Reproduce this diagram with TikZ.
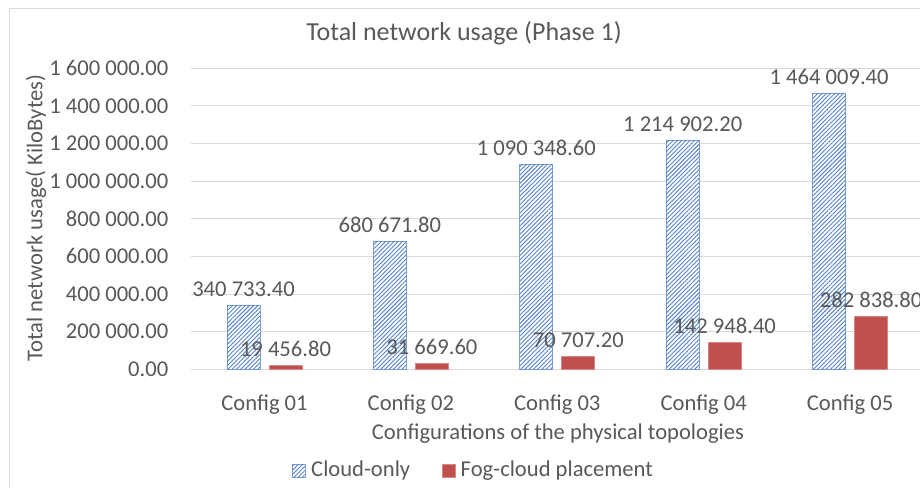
\documentclass[tikz,border=0pt]{standalone}
\usepackage{fontspec}
\setmainfont{Carlito}
\usetikzlibrary{patterns.meta}
\definecolor{txt}{HTML}{595959}
\definecolor{gridgray}{HTML}{D9D9D9}
\definecolor{framegray}{HTML}{D9D9D9}
\definecolor{cloudblue}{HTML}{5282CC}
\definecolor{cloudedge}{HTML}{7FA2DA}
\definecolor{fogred}{HTML}{C0504D}
\definecolor{fogedge}{HTML}{D58886}

\begin{document}
\begin{tikzpicture}[x=1pt,y=-1pt,
  txtbase/.style={text=txt,inner sep=0pt},
  bigfont/.style={font=\fontsize{22.6}{27}\selectfont},
  ticklbl/.style={txtbase,bigfont,anchor=base east},
  vallbl/.style={txtbase,bigfont,anchor=base},
  catlbl/.style={txtbase,bigfont,anchor=base},
  axtitle/.style={txtbase,bigfont},
  legtxt/.style={txtbase,bigfont,anchor=base west},
  charttitle/.style={txtbase,font=\fontsize{26}{31}\selectfont,anchor=base},
  cloudbar/.style={draw=cloudedge,line width=0.8pt,fill=white,
    postaction={pattern color=cloudblue,
      pattern={Lines[angle=45,distance=3pt,line width=0.9pt]}}},
  fogbar/.style={fill=fogred,draw=fogedge,line width=0.8pt},
  gridline/.style={draw=gridgray,line width=1pt}]

\useasboundingbox (0,0) rectangle (920,487);
\fill[white] (0,0) rectangle (920,487);

% chart area frame
\draw[framegray,line width=1pt] (9.3,500) -- (9.3,8.3) -- (930,8.3);

% title
\node[charttitle] (title) at (464,41) {Total network usage (Phase 1)};

% horizontal gridlines and value axis labels
\foreach \k/\t in {0/0.00,1/200 000.00,2/400 000.00,3/600 000.00,4/800 000.00,
                   5/1 000 000.00,6/1 200 000.00,7/1 400 000.00,8/1 600 000.00}{
  \pgfmathsetmacro{\gy}{369.3-\k*37.625}
  \path[gridline] (191,\gy) -- (925,\gy);
  \node[ticklbl] (tick\k) at (168.5,\gy+7.3) {\t};
}

% axis titles
\node[axtitle,rotate=90] (ytitle) at (36,218) {Total network usage( KiloBytes)};
\node[axtitle,anchor=base] (xtitle) at (558,439.5) {Configurations of the physical topologies};

% bars (values in thousands of KiloBytes)
\foreach \i/\cv/\fv in {1/340.7334/19.4568,2/680.6718/31.6696,3/1090.3486/70.7072,
                        4/1214.9022/142.9484,5/1464.0094/282.8388}{
  \pgfmathsetmacro{\c}{191.3+(\i-0.5)*146.4}
  \pgfmathsetmacro{\ct}{369.3-\cv*0.188125}
  \pgfmathsetmacro{\ft}{369.3-\fv*0.188125}
  \path[cloudbar] (\c-37.5,369.3) rectangle (\c-4.5,\ct);
  \path[fogbar] (\c+4.5,369.3) rectangle (\c+37.5,\ft);
  \node[catlbl] (cat\i) at (\c,410) {Config 0\i};
}

% data labels
\foreach \i/\cv/\fv/\cl/\fl in {1/340.7334/19.4568/{340 733.40}/{19 456.80},
                                2/680.6718/31.6696/{680 671.80}/{31 669.60},
                                3/1090.3486/70.7072/{1 090 348.60}/{70 707.20},
                                4/1214.9022/142.9484/{1 214 902.20}/{142 948.40},
                                5/1464.0094/282.8388/{1 464 009.40}/{282 838.80}}{
  \pgfmathsetmacro{\c}{191.3+(\i-0.5)*146.4}
  \pgfmathsetmacro{\ct}{369.3-\cv*0.188125}
  \pgfmathsetmacro{\ft}{369.3-\fv*0.188125}
  \node[vallbl] (cloudval\i) at (\c-21,\ct-9) {\cl};
  \node[vallbl] (fogval\i) at (\c+21,\ft-9) {\fl};
}

% legend
\path[cloudbar] (292,464) rectangle (305,477);
\node[legtxt] (legcloud) at (311,476.5) {Cloud-only};
\path[fogbar] (442,464) rectangle (455,477);
\node[legtxt] (legfog) at (460.5,476.5) {Fog-cloud placement};
\end{tikzpicture}
\end{document}
